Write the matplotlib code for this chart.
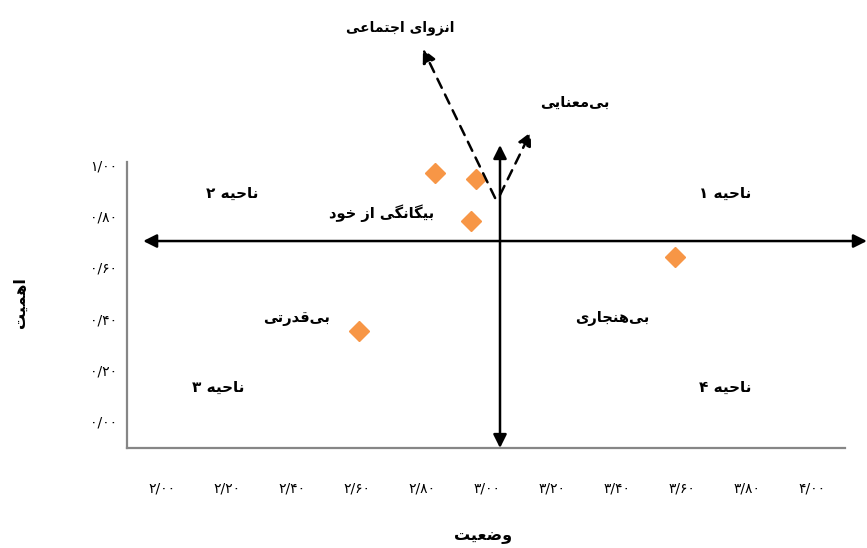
import matplotlib
matplotlib.use("Agg")
import matplotlib.pyplot as plt

# matplotlib has no Arabic shaping, so map letters to presentation forms
# (isolated, final, initial, medial) and write them in visual order
FORMS = {
    '\u0627': ('\uFE8D', '\uFE8E', None, None),      # alef
    '\u0628': ('\uFE8F', '\uFE90', '\uFE91', '\uFE92'),  # beh
    '\u062A': ('\uFE95', '\uFE96', '\uFE97', '\uFE98'),  # teh
    '\u062C': ('\uFE9D', '\uFE9E', '\uFE9F', '\uFEA0'),  # jeem
    '\u062D': ('\uFEA1', '\uFEA2', '\uFEA3', '\uFEA4'),  # hah
    '\u062E': ('\uFEA5', '\uFEA6', '\uFEA7', '\uFEA8'),  # khah
    '\u062F': ('\uFEA9', '\uFEAA', None, None),      # dal
    '\u0631': ('\uFEAD', '\uFEAE', None, None),      # reh
    '\u0632': ('\uFEAF', '\uFEB0', None, None),      # zain
    '\u0636': ('\uFEBD', '\uFEBE', '\uFEBF', '\uFEC0'),  # dad
    '\u0639': ('\uFEC9', '\uFECA', '\uFECB', '\uFECC'),  # ain
    '\u0642': ('\uFED5', '\uFED6', '\uFED7', '\uFED8'),  # qaf
    '\u0645': ('\uFEE1', '\uFEE2', '\uFEE3', '\uFEE4'),  # meem
    '\u0646': ('\uFEE5', '\uFEE6', '\uFEE7', '\uFEE8'),  # noon
    '\u0647': ('\uFEE9', '\uFEEA', '\uFEEB', '\uFEEC'),  # heh
    '\u0648': ('\uFEED', '\uFEEE', None, None),      # waw
    '\u06CC': ('\uFBFC', '\uFBFD', '\uFBFE', '\uFBFF'),  # farsi yeh
    '\u06AF': ('\uFB92', '\uFB93', '\uFB94', '\uFB95'),  # gaf
}


def fa(s):
    out = []
    for i, c in enumerate(s):
        if c not in FORMS:
            out.append(c)
            continue
        prev = s[i-1] if i > 0 else None
        nxt = s[i+1] if i + 1 < len(s) else None
        jp = prev in FORMS and FORMS[prev][2] is not None
        jn = FORMS[c][2] is not None and nxt in FORMS
        iso, fin, ini, med = FORMS[c]
        if jp and jn:
            out.append(med)
        elif jp:
            out.append(fin)
        elif jn:
            out.append(ini)
        else:
            out.append(iso)
    return ''.join(out).replace('\u200c', '')[::-1]


# data
status = [2.84, 2.965, 2.95, 3.578, 2.605]        # وضعیت
importance = [0.97, 0.945, 0.78, 0.642, 0.353]    # اهمیت

xticks = [2.0, 2.2, 2.4, 2.6, 2.8, 3.0, 3.2, 3.4, 3.6, 3.8, 4.0]
xticklabels = ['۲/۰۰', '۲/۲۰', '۲/۴۰', '۲/۶۰', '۲/۸۰', '۳/۰۰',
               '۳/۲۰', '۳/۴۰', '۳/۶۰', '۳/۸۰', '۴/۰۰']
yticks = [0.0, 0.2, 0.4, 0.6, 0.8, 1.0]
yticklabels = ['۰/۰۰', '۰/۲۰', '۰/۴۰', '۰/۶۰', '۰/۸۰', '۱/۰۰']

# quadrant axes (centre of the diagram)
x_mid = 3.04
y_mid = 0.703

W, H = 867, 548
fig = plt.figure(figsize=(W/100, H/100), dpi=100)
plt.rcParams['font.family'] = ['DejaVu Sans']

# axes box in pixels: left 127, right 845, bottom 448, top 140
ax = fig.add_axes([127/W, 1-448/H, (845-127)/W, (448-140)/H])
x0 = 2 - 35/325
x1 = 2 + 683/325
y0 = -(448-421)/256
y1 = (421-140)/256
ax.set_xlim(x0, x1)
ax.set_ylim(y0, y1)

for s in ['top', 'right']:
    ax.spines[s].set_visible(False)
for s in ['left', 'bottom']:
    ax.spines[s].set_color('#868686')
    ax.spines[s].set_linewidth(1.6)
ax.spines['left'].set_bounds(y0, (421-162)/256)

ax.set_xticks(xticks)
ax.set_xticklabels(xticklabels, fontsize=10)
ax.set_yticks(yticks)
ax.set_yticklabels(yticklabels, fontsize=10)
ax.tick_params(axis='x', length=0, pad=24)
ax.tick_params(axis='y', length=0, pad=7)

ax.plot(status, importance, linestyle='none', marker='D', ms=10,
        color='#F79646', mec='#F79646', zorder=3)

# solid double-headed arrows
ax.annotate('', xy=(x_mid, 1.078), xytext=(x_mid, y0),
            arrowprops=dict(arrowstyle='<|-|>', color='black', lw=1.8,
                            mutation_scale=20, shrinkA=0, shrinkB=0),
            annotation_clip=False)
ax.annotate('', xy=(4.169, y_mid), xytext=(1.942, y_mid),
            arrowprops=dict(arrowstyle='<|-|>', color='black', lw=1.8,
                            mutation_scale=20, shrinkA=0, shrinkB=0),
            annotation_clip=False)

# dashed arrows
ax.annotate('', xy=(2.803, 1.453), xytext=(3.025, 0.871),
            arrowprops=dict(arrowstyle='-|>', color='black', lw=1.8, ls=(0, (4, 3)),
                            mutation_scale=20, shrinkA=0, shrinkB=0),
            annotation_clip=False)
ax.annotate('', xy=(3.135, 1.129), xytext=(3.04, 0.883),
            arrowprops=dict(arrowstyle='-|>', color='black', lw=1.8, ls=(0, (4, 3)),
                            mutation_scale=20, shrinkA=0, shrinkB=0),
            annotation_clip=False)


def label(x, y, s, size=10.5):
    fig.text(x/W, 1-y/H, fa(s), ha='center', va='center',
             fontsize=size, fontweight='bold')


label(400, 28, 'انزوای اجتماعی', 10)
label(575, 102, 'بی\u200cمعنایی')
label(382, 213, 'بیگانگی از خود')
label(232, 193, 'ناحیه ۲', 11)
label(725, 193, 'ناحیه ۱', 11)
label(218, 387, 'ناحیه ۳', 11)
label(725, 387, 'ناحیه ۴', 11)
label(297, 319, 'بی\u200cقدرتی')
label(612, 319, 'بی\u200cهنجاری')

fig.text(483/W, 1-537/H, fa('وضعیت'), ha='center', va='center',
         fontsize=11.5, fontweight='bold')
fig.text(20/W, 1-303/H, fa('اهمیت'), ha='center', va='center',
         fontsize=11.5, fontweight='bold', rotation=90)

fig.savefig('out.png', dpi=100)
